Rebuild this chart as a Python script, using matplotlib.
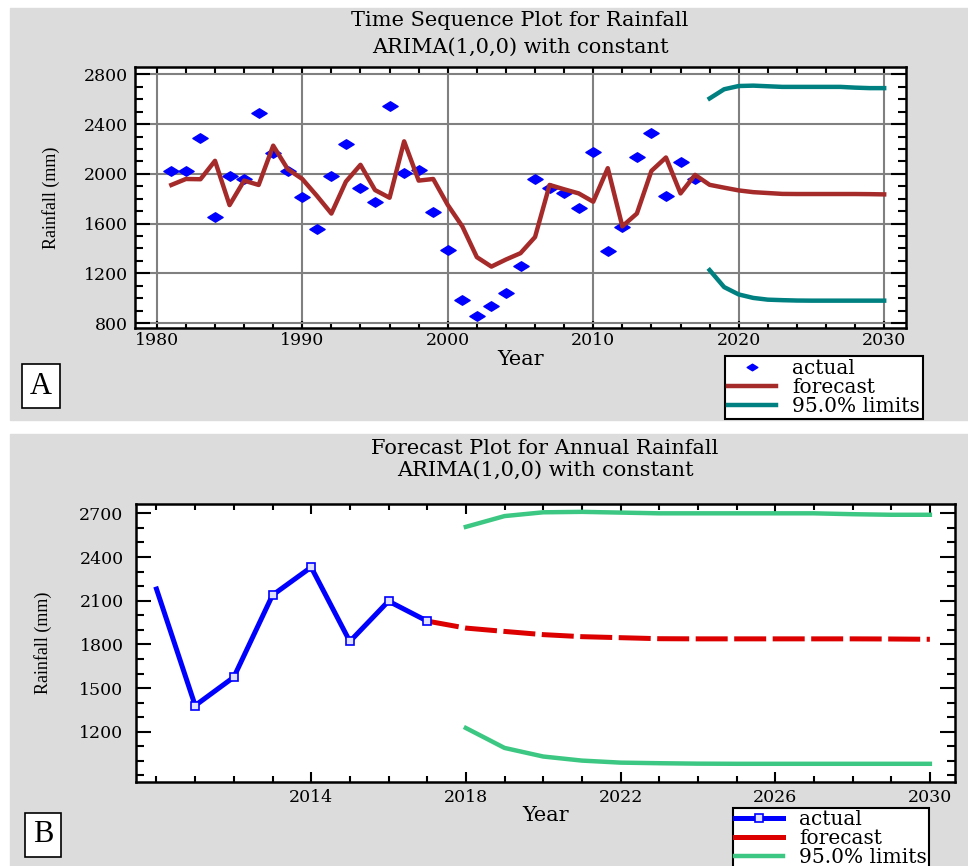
import numpy as np
import matplotlib
matplotlib.use("Agg")
import matplotlib.pyplot as plt
from matplotlib.patches import Rectangle
from matplotlib.path import Path
from matplotlib.ticker import MultipleLocator, FixedLocator

# observed annual rainfall (mm), 1981-2017
years = np.arange(1981, 2018)
actual = [2027, 2027, 2287, 1657, 1981, 1957, 2492, 2168, 2027, 1811,
          1557, 1981, 2241, 1889, 1773, 2546, 2008, 2035, 1695, 1389,
          984, 857, 938, 1038, 1262, 1962, 1884, 1843, 1722, 2180,
          1380, 1575, 2138, 2330, 1820, 2097, 1960]
# one-step fitted values from the model, 1981-2017
fitted = [1911, 1959, 1957, 2105, 1749, 1946, 1911, 2227, 2038, 1959,
          1824, 1681, 1938, 2073, 1870, 1808, 2262, 1946, 1959, 1750,
          1578, 1330, 1254, 1311, 1362, 1492, 1911, 1876, 1843, 1776,
          2046, 1578, 1681, 2024, 2132, 1843, 1992]
# forecasts 2018-2030 and 95% limits
fc_years = np.arange(2018, 2031)
forecast = [1912, 1889, 1867, 1853, 1846, 1839, 1838, 1838, 1838, 1838, 1838, 1837, 1835]
upper = [2607, 2681, 2707, 2710, 2705, 2700, 2700, 2700, 2700, 2700, 2694, 2690, 2690]
lower = [1226, 1089, 1030, 1002, 988, 984, 981, 980, 980, 980, 980, 980, 980]

GRAY = "#dcdcdc"
W, H = 968, 866
SERIF = "DejaVu Serif"
TICK_FS = 12.5
TITLE_FS = 15
LEG_FS = 14.5


def box(x0, y0, x1, y1):
    # pixel box (top-left origin) -> figure fraction rect
    return [x0 / W, 1 - y1 / H, (x1 - x0) / W, (y1 - y0) / H]


diamond = Path([(-1, 0), (0, 0.62), (1, 0), (0, -0.62), (-1, 0)],
               [Path.MOVETO, Path.LINETO, Path.LINETO, Path.LINETO, Path.CLOSEPOLY])

fig = plt.figure(figsize=(9.68, 8.66), dpi=100)
fig.patch.set_facecolor("white")
fig.add_artist(Rectangle((10 / W, 1 - 420 / H), 1, (420 - 8) / H,
                         transform=fig.transFigure, color=GRAY, zorder=0))
fig.add_artist(Rectangle((10 / W, 0), 1, (866 - 434) / H,
                         transform=fig.transFigure, color=GRAY, zorder=0))

# ---------------- panel A ----------------
ax1 = fig.add_axes(box(135, 67, 906, 328))
ax1.plot(years, actual, linestyle="none", marker=diamond, markersize=11,
         color="#0000ff", label="actual", zorder=3)
ax1.plot(np.concatenate([years, fc_years]), fitted + forecast,
         color="#a52a2a", lw=3.2, label="forecast", zorder=4)
ax1.plot(fc_years, upper, color="#008080", lw=3.2, label="95.0% limits", zorder=4)
ax1.plot(fc_years, lower, color="#008080", lw=3.2, zorder=4)

ax1.set_xlim(1978.5, 2031.5)
ax1.set_ylim(760, 2860)
ax1.xaxis.set_major_locator(MultipleLocator(10))
ax1.xaxis.set_minor_locator(MultipleLocator(2))
ax1.yaxis.set_major_locator(MultipleLocator(400))
ax1.yaxis.set_minor_locator(MultipleLocator(100))
ax1.grid(True, which="major", color="#808080", lw=1.5, zorder=1)
ax1.tick_params(which="both", direction="in", top=True, right=True, width=1.5,
                labelsize=TICK_FS, labelfontfamily=SERIF)
ax1.tick_params(axis="y", which="major", length=11, pad=5)
ax1.tick_params(axis="y", which="minor", length=6)
ax1.tick_params(axis="x", which="major", length=5, pad=3)
ax1.tick_params(axis="x", which="minor", length=4)
for s in ax1.spines.values():
    s.set_linewidth(1.8)
    s.set_zorder(5)
ax1.set_xlabel("Year", family=SERIF, fontsize=15)
ax1.xaxis.set_label_coords(0.5, -0.085)
ax1.set_ylabel("Rainfall (mm)", family="Liberation Serif", fontsize=13)
ax1.yaxis.set_label_coords(-0.097, 0.5)

fig.text(520 / W, 1 - 21 / H, "Time Sequence Plot for Rainfall",
         family=SERIF, fontsize=TITLE_FS, ha="center", va="center")
fig.text(520 / W, 1 - 47 / H, "ARIMA(1,0,0) with constant",
         family=SERIF, fontsize=TITLE_FS, ha="center", va="center")

leg1 = ax1.legend(loc="upper left", bbox_to_anchor=(725 / W, 1 - 356 / H),
                  bbox_transform=fig.transFigure, borderaxespad=0,
                  prop={"family": SERIF, "size": LEG_FS}, frameon=True,
                  fancybox=False, framealpha=1, edgecolor="black",
                  handlelength=2.4, handletextpad=0.8, labelspacing=0.0,
                  borderpad=0.15, markerscale=0.7)
leg1.get_frame().set_linewidth(1.5)

fig.text(41 / W, 1 - 386 / H, "A", family="Liberation Serif", fontsize=22,
         ha="center", va="center",
         bbox=dict(boxstyle="square,pad=0.25", fc="white", ec="black", lw=1.2))

# ---------------- panel B ----------------
ax2 = fig.add_axes(box(136, 504, 955, 782))
recent = years >= 2010
ax2.plot(years[recent], np.array(actual)[recent], color="#0000ff", lw=3.6,
         marker="s", markersize=6, mfc="#e0e0ff", mec="#0000ff", mew=1.2,
         markevery=slice(1, None), label="actual", zorder=4)
ax2.plot(np.concatenate([[years[-1]], fc_years]), [actual[-1]] + forecast,
         color="#dd0000", lw=3.6, dashes=(6.4, 1.3), label="forecast", zorder=3)
ax2.plot(fc_years, upper, color="#3cc882", lw=3.2, label="95.0% limits", zorder=3)
ax2.plot(fc_years, lower, color="#3cc882", lw=3.2, zorder=3)

ax2.set_xlim(2009.47, 2030.65)
ax2.set_ylim(855, 2764)
ax2.xaxis.set_major_locator(FixedLocator([2014, 2018, 2022, 2026, 2030]))
ax2.xaxis.set_minor_locator(MultipleLocator(1))
ax2.yaxis.set_major_locator(FixedLocator([1200, 1500, 1800, 2100, 2400, 2700]))
ax2.yaxis.set_minor_locator(MultipleLocator(100))
ax2.tick_params(which="both", direction="in", top=True, right=True, width=1.5,
                labelsize=TICK_FS, labelfontfamily=SERIF)
ax2.tick_params(axis="y", which="major", length=11, pad=9)
ax2.tick_params(axis="y", which="minor", length=6)
ax2.tick_params(axis="x", which="major", length=7, pad=5)
ax2.tick_params(axis="x", which="minor", length=4)
for s in ax2.spines.values():
    s.set_linewidth(1.8)
ax2.set_xlabel("Year", family=SERIF, fontsize=15)
ax2.xaxis.set_label_coords(0.5, -0.085)
ax2.set_ylabel("Rainfall (mm)", family="Liberation Serif", fontsize=13)
ax2.yaxis.set_label_coords(-0.103, 0.5)

fig.text(545 / W, 1 - 449 / H, "Forecast Plot for Annual Rainfall",
         family=SERIF, fontsize=TITLE_FS, ha="center", va="center")
fig.text(545 / W, 1 - 470 / H, "ARIMA(1,0,0) with constant",
         family=SERIF, fontsize=TITLE_FS, ha="center", va="center")

leg2 = ax2.legend(loc="upper left", bbox_to_anchor=(733 / W, 1 - 808 / H),
                  bbox_transform=fig.transFigure, borderaxespad=0,
                  prop={"family": SERIF, "size": LEG_FS}, frameon=True,
                  fancybox=False, framealpha=1, edgecolor="black",
                  handlelength=2.4, handletextpad=0.8, labelspacing=0.0,
                  borderpad=0.1)
leg2.get_frame().set_linewidth(1.5)
for h in leg2.get_lines():
    h.set_linestyle("-")

fig.text(43 / W, 1 - 835 / H, "B", family="Liberation Serif", fontsize=22,
         ha="center", va="center",
         bbox=dict(boxstyle="square,pad=0.25", fc="white", ec="black", lw=1.2))

fig.savefig("out.png", dpi=100)
